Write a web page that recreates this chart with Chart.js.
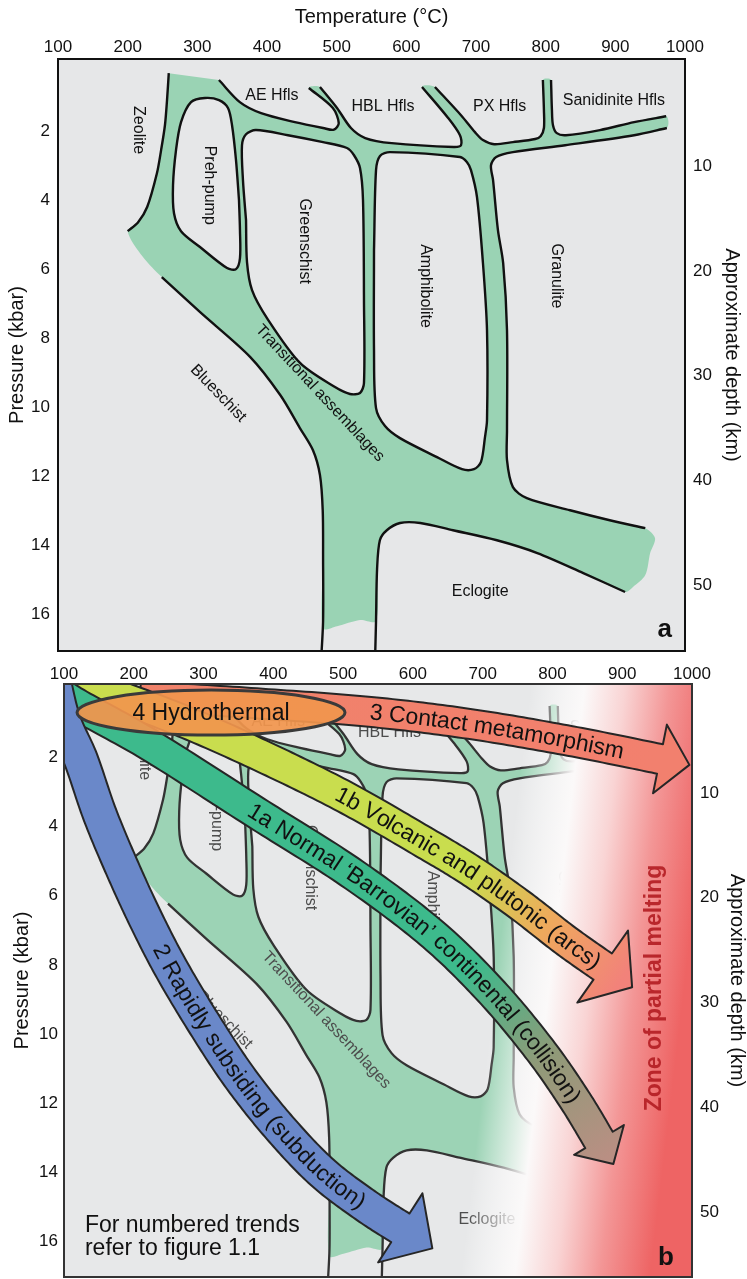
<!DOCTYPE html>
<html><head><meta charset="utf-8">
<script src="https://cdn.jsdelivr.net/npm/chart.js@4.4.1/dist/chart.umd.min.js"></script>
<style>
html,body{margin:0;padding:0;background:#fff;}
body{width:747px;height:1279px;position:relative;overflow:hidden;}
.w{position:absolute;left:0;width:747px;}
canvas{display:block;}
</style>
</head><body>
<div class="w" style="top:0;height:655px"><canvas id="ca" width="747" height="655" style="width:747px;height:655px"></canvas></div>
<div class="w" style="top:655px;height:624px"><canvas id="cb" width="747" height="624" style="width:747px;height:624px"></canvas></div>
<script>
// ---------------- axes ----------------
const temperatureTicks = [100,200,300,400,500,600,700,800,900,1000];
const pressureTicks = [2,4,6,8,10,12,14,16];
const depthTicks = [10,20,30,40,50];
const KM_PER_KBAR = 3.3;

// ---------------- facies boundaries [T (°C), P (kbar)] ----------------
const zeoliteLine = [[259,0.32],[256.5,1.1],[253.5,1.83],[248,2.55],[242,3.22],[228,4.2],[215,4.64],[200,4.9]];
const blueschistLine = [[249,6.23],[304,7.25],[376,8.55],[419,9.65],[447,10.6],[466,11.25],[476,11.97],[480,13],[480.5,14.4],[480.5,16.2],[477.5,17.4]];
const eclogiteLine = [[555,17.4],[556.5,16.2],[558,14.7],[562,13.86],[572,13.57],[591,13.36],[620,13.36],[667,13.57],[730,13.86],[788,14.23],[854,14.81],[914,15.36]];
const granuliteLine = [[943,13.51],[892,13.28],[835,12.99],[773,12.64],[753,12.32],[744.5,11.54],[744.5,10.67],[744.5,7.77],[739,5.83],[731.5,4.87],[724.5,3.42],[721.5,2.99],[729,2.75],[753,2.61],[828,2.41],[927,2.12],[974,1.91]];
const sanidiniteLine = [[973,1.57],[927,1.74],[878,1.97],[829,2.12],[816,2.06],[810.5,1.83],[809,1.39],[807.7,0.52]];
const pxHflsLine = [[796,0.52],[797.5,1.39],[797.5,1.91],[793,2.14],[785,2.23],[753,2.32],[726,2.38],[710,2.26],[698.5,2.03],[678.5,1.54],[641,0.72]];
const hblHflsLine = [[622.5,0.72],[660,1.62],[677,2.12],[678.5,2.41],[668,2.46],[579,2.35],[541,2.2],[520.5,1.91],[500.5,1.33],[476,0.72]];
const aeHflsLine = [[460,0.75],[494.5,1.33],[503,1.77],[496,1.96],[480.5,1.91],[440,1.74],[391.5,1.48],[361,1.16],[331,0.52]];
// closed fields
const prehPumpField = [[359.8,4.0],[361.2,4.87],[361.2,5.68],[355.5,6.0],[342.6,5.97],[303.8,5.36],[276.6,4.9],[266.5,4.38],[265.1,3.57],[269.4,2.55],[276.6,1.74],[290.9,1.16],[311,1.04],[331.1,1.1],[344,1.33],[349.8,1.83],[355.5,2.84],[359.8,4.0]];
const greenschistField = [[369.9,4.58],[371.3,5.8],[378.5,6.61],[400,7.42],[447.4,8.72],[497.6,9.42],[519.1,9.62],[533.5,9.59],[539.2,9.3],[539.2,6.9],[537.8,4.0],[533.5,3.07],[524.9,2.7],[514.8,2.49],[480.4,2.32],[430.1,2.12],[384.2,1.97],[369.9,2.09],[364.1,2.41],[365.5,3.42],[369.9,4.58]];
const amphiboliteField = [[553.6,5.45],[556.5,3.13],[562.2,2.72],[576.6,2.61],[677,2.75],[687.1,2.9],[692.8,3.13],[701.4,3.91],[710,5.83],[715.8,7.77],[715.8,10.38],[712.9,10.87],[707.2,11.59],[697.1,11.8],[679.9,11.8],[644,11.45],[590.9,10.9],[569.4,10.55],[556.5,10.03],[553.6,8.35],[553.6,5.45]];
// unlined edges of the transitional (green) band
const edgeLeft = [[222,5.65]];
const edgeBottom = [[480.4,16.41],[500.5,16.35],[533.5,16.17]];
const edgeRightEnd = [[925,15.22],[943,14.87],[950,14.23],[957,13.8]];

const faciesLabels = [
  {text:'Zeolite', T:214.8, P:1.97, rot:90},
  {text:'Preh-pump', T:318, P:3.57, rot:90},
  {text:'Greenschist', T:453, P:5.19, rot:90},
  {text:'Amphibolite', T:628, P:6.49, rot:90},
  {text:'Granulite', T:815, P:6.2, rot:90},
  {text:'AE Hfls', T:407, P:0.96, rot:0},
  {text:'HBL Hfls', T:566.5, P:1.28, rot:0},
  {text:'PX Hfls', T:734, P:1.28, rot:0},
  {text:'Sanidinite Hfls', T:898, P:1.13, rot:0},
  {text:'Transitional assemblages', T:476, P:9.6, rot:47},
  {text:'Blueschist', T:330, P:9.6, rot:46},
  {text:'Eclogite', T:706, P:15.36, rot:0}
];

// ---------------- panel b: trends ----------------
const arrow2Path = [[77,-1.1],[97,0.78],[124.4,2.08],[151.6,3.67],[184.6,5.26],[219,6.76],[254.8,8.15],[302,9.74],[352.2,11.27],[409.5,12.72],[469.7,13.99],[531.4,14.94],[582,15.6]];
const arrow1aPath = [[65.6,-0.38],[108.6,0.35],[223.2,1.65],[373.7,3.58],[509.9,5.32],[624.5,7.05],[710.5,8.73],[782.2,10.46],[832.3,11.91],[866.7,13.06]];
const arrow1bPath = [[65.6,-0.52],[151.6,0.06],[266.2,0.92],[380.9,1.94],[502.7,3.15],[610.2,4.39],[681.8,5.26],[753.5,6.27],[818,7.28],[872,8.05]];
const arrow3Path = [[208.9,0.23],[366.6,0.43],[538.5,0.69],[681.8,1.04],[825.1,1.53],[954.1,2.05]];
const hydrothermal = {T:310.7, P:0.71, rT:192, rP:0.65, text:'4 Hydrothermal'};

const trendArrows = [
  {path:arrow3Path, text:'3 Contact metamorphism', textStart:[541.4,0.72], width:30, headLen:30, headW:70,
   grad:[[200,0.2],[950,2.0]], colors:['#f0826a','#f2806e']},
  {path:arrow1bPath, text:'1b Volcanic and plutonic (arcs)', textStart:[491.2,2.95], width:32, headLen:36, headW:88,
   grad:[[681.8,5.26],[904,8.29]], colors:['#c9dd4e','#eeaa5c','#f2827a']},
  {path:arrow1aPath, text:'1a Normal \u2018Barrovian\u2019 continental (collision)', textStart:[366.6,3.41], width:32, headLen:28, headW:58,
   grad:[[696,7.86],[882.5,13.5]], colors:['#3dba8c','#8f9a78','#b98f83']},
  {path:arrow2Path, text:'2 Rapidly subsiding (subduction)', textStart:[233.3,7.49], width:34, headLen:38, headW:82,
   grad:[[100,0],[600,16]], colors:['#6a88c9','#6a88c9']}
];

// melting zone: colour stops along T at P = 0, isolines slanting by meltZoneSlant = [P, dT]
const meltZoneT = [768, 846, 904, 968, 1040];
const meltZoneColors = ['rgba(255,255,255,0)','rgba(251,249,249,1)','rgba(249,212,212,1)','rgba(243,150,150,1)','rgba(238,100,100,1)'];
const meltZoneSlant = [17, -100];
const meltZoneCorners = [[90,-1],[1010,-1],[1010,18],[90,18]];
const meltZoneLabel = {text:'Zone of partial melting', T:947, P:8.67};
const noteLines = ['For numbered trends','refer to figure 1.1'];
const noteAnchor = {T:130, P:[15.72,16.39]};

// ---------------- build envelope of green band ----------------
const greenEnvelope = [].concat(
  zeoliteLine, edgeLeft, blueschistLine.slice(0,9), edgeBottom, eclogiteLine.slice(1),
  edgeRightEnd, granuliteLine, sanidiniteLine, pxHflsLine, hblHflsLine, aeHflsLine);

const FONT = "'Liberation Sans', Arial, Helvetica, sans-serif";

// ---------------- helpers ----------------
function toPx(chart, T, P){ return {x: chart.scales.x.getPixelForValue(T), y: chart.scales.y.getPixelForValue(P)}; }
function smooth(points, seg){
  const out=[]; const n=points.length;
  for(let i=0;i<n-1;i++){
    const p0=points[Math.max(i-1,0)], p1=points[i], p2=points[i+1], p3=points[Math.min(i+2,n-1)];
    for(let k=0;k<seg;k++){
      const t=k/seg, t2=t*t, t3=t2*t;
      const f=(a,b,c,d)=>0.5*((2*b)+(-a+c)*t+(2*a-5*b+4*c-d)*t2+(-a+3*b-3*c+d)*t3);
      out.push({x:f(p0.x,p1.x,p2.x,p3.x), y:f(p0.y,p1.y,p2.y,p3.y)});
    }
  }
  out.push(points[n-1]);
  return out;
}
function tangents(pts){
  const n=pts.length;
  return pts.map((p,i)=>{const A=pts[Math.max(i-1,0)],B=pts[Math.min(i+1,n-1)];const dx=B.x-A.x,dy=B.y-A.y,l=Math.hypot(dx,dy)||1;return {x:dx/l,y:dy/l};});
}
function drawArrow(ctx, chart, a){
  const pts=smooth(a.path.map(([T,P])=>toPx(chart,T,P)),20);
  const tg=tangents(pts); const n=pts.length; const hw=a.width/2;
  const L=[],R=[];
  pts.forEach((p,i)=>{const nx=-tg[i].y, ny=tg[i].x; L.push({x:p.x+nx*hw,y:p.y+ny*hw}); R.push({x:p.x-nx*hw,y:p.y-ny*hw});});
  const e=pts[n-1], te=tg[n-1], ne={x:-te.y,y:te.x};
  ctx.beginPath();
  ctx.moveTo(L[0].x,L[0].y);
  for(let i=1;i<n;i++) ctx.lineTo(L[i].x,L[i].y);
  ctx.lineTo(e.x+ne.x*a.headW/2, e.y+ne.y*a.headW/2);
  ctx.lineTo(e.x+te.x*a.headLen, e.y+te.y*a.headLen);
  ctx.lineTo(e.x-ne.x*a.headW/2, e.y-ne.y*a.headW/2);
  for(let i=n-1;i>=0;i--) ctx.lineTo(R[i].x,R[i].y);
  ctx.closePath();
  const g0=toPx(chart,a.grad[0][0],a.grad[0][1]), g1=toPx(chart,a.grad[1][0],a.grad[1][1]);
  const g=ctx.createLinearGradient(g0.x,g0.y,g1.x,g1.y);
  a.colors.forEach((c,i)=>g.addColorStop(i/(a.colors.length-1),c));
  ctx.fillStyle=g; ctx.fill();
  ctx.lineJoin='round'; ctx.lineWidth=2; ctx.strokeStyle='#262626'; ctx.stroke();
  // text along the centre line
  const cum=[0]; for(let i=1;i<n;i++) cum.push(cum[i-1]+Math.hypot(pts[i].x-pts[i-1].x,pts[i].y-pts[i-1].y));
  const s=toPx(chart,a.textStart[0],a.textStart[1]);
  let best=0,bd=1e9; pts.forEach((p,i)=>{const d=Math.hypot(p.x-s.x,p.y-s.y); if(d<bd){bd=d;best=i;}});
  const start=cum[best];
  ctx.font='23px '+FONT; ctx.fillStyle='#111'; ctx.textAlign='center'; ctx.textBaseline='middle';
  const chars=[...a.text];
  let prefix='';
  chars.forEach(ch=>{
    const w0=ctx.measureText(prefix).width; const w=ctx.measureText(ch).width;
    const d=start+w0+w/2;
    let j=1; while(j<n-1 && cum[j]<d) j++;
    const f=(d-cum[j-1])/((cum[j]-cum[j-1])||1);
    const x=pts[j-1].x+(pts[j].x-pts[j-1].x)*f, y=pts[j-1].y+(pts[j].y-pts[j-1].y)*f;
    const ang=Math.atan2(pts[j].y-pts[j-1].y, pts[j].x-pts[j-1].x);
    ctx.save(); ctx.translate(x,y); ctx.rotate(ang); ctx.fillText(ch,0,1); ctx.restore();
    prefix+=ch;
  });
}
function meltGradient(chart){
  const xs=chart.scales.x, ys=chart.scales.y;
  if(!chart.chartArea || !xs || !ys) return 'rgba(0,0,0,0)';
  const last=meltZoneT.length-1;
  const p0={x:xs.getPixelForValue(meltZoneT[0]), y:ys.getPixelForValue(0)};
  const q0={x:xs.getPixelForValue(meltZoneT[0]+meltZoneSlant[1]), y:ys.getPixelForValue(meltZoneSlant[0])};
  let ix=q0.x-p0.x, iy=q0.y-p0.y; const il=Math.hypot(ix,iy); ix/=il; iy/=il;
  let nx=-iy, ny=ix; if(nx<0){nx=-nx;ny=-ny;}
  const span=(xs.getPixelForValue(meltZoneT[last])-p0.x)*nx;
  const g=chart.ctx.createLinearGradient(p0.x,p0.y,p0.x+nx*span,p0.y+ny*span);
  meltZoneT.forEach((T,i)=>g.addColorStop((T-meltZoneT[0])/(meltZoneT[last]-meltZoneT[0]), meltZoneColors[i]));
  return g;
}

// ---------------- plugin ----------------
const diagramPlugin = {
  id:'diagram',
  beforeDatasetsDraw(chart){
    const c=chart.options.plugins.diagram, a=chart.chartArea, ctx=chart.ctx;
    ctx.save(); ctx.fillStyle=c.bg; ctx.fillRect(a.left,a.top,a.right-a.left,a.bottom-a.top); ctx.restore();
  },
  afterDatasetDraw(chart,args){
    const c=chart.options.plugins.diagram;
    if(args.index!==c.lastDiagramIndex) return;
    const ctx=chart.ctx; ctx.save();
    ctx.font='16px '+FONT; ctx.fillStyle=c.label; ctx.textAlign='center'; ctx.textBaseline='middle';
    faciesLabels.forEach(l=>{const p=toPx(chart,l.T,l.P); ctx.save(); ctx.translate(p.x,p.y); ctx.rotate(l.rot*Math.PI/180); ctx.fillText(l.text,0,0); ctx.restore();});
    ctx.restore();
  },
  afterDatasetsDraw(chart){
    const c=chart.options.plugins.diagram;
    if(!c.overlays) return;
    const ctx=chart.ctx, a=chart.chartArea;
    ctx.save(); ctx.beginPath(); ctx.rect(a.left,a.top,a.right-a.left,a.bottom-a.top); ctx.clip();
    trendArrows.forEach(ar=>drawArrow(ctx,chart,ar));
    // hydrothermal ellipse
    const e=toPx(chart,hydrothermal.T,hydrothermal.P);
    const rx=Math.abs(chart.scales.x.getPixelForValue(hydrothermal.T+hydrothermal.rT)-e.x);
    const ry=Math.abs(chart.scales.y.getPixelForValue(hydrothermal.P+hydrothermal.rP)-e.y);
    ctx.beginPath(); ctx.ellipse(e.x,e.y,rx,ry,0,0,Math.PI*2);
    ctx.fillStyle='rgba(241,150,78,0.93)'; ctx.fill(); ctx.lineWidth=3; ctx.strokeStyle='#3a3a3a'; ctx.stroke();
    ctx.font='23px '+FONT; ctx.fillStyle='#111'; ctx.textAlign='center'; ctx.textBaseline='middle';
    ctx.fillText(hydrothermal.text,e.x,e.y+1);
    // zone label
    const z=toPx(chart,meltZoneLabel.T,meltZoneLabel.P);
    ctx.save(); ctx.translate(z.x,z.y); ctx.rotate(-Math.PI/2); ctx.font='bold 23px '+FONT; ctx.fillStyle='rgba(180,30,36,0.92)';
    ctx.fillText(meltZoneLabel.text,0,0); ctx.restore();
    // note
    ctx.font='23px '+FONT; ctx.fillStyle='#111'; ctx.textAlign='left'; ctx.textBaseline='alphabetic';
    noteLines.forEach((t,i)=>{const p=toPx(chart,noteAnchor.T,noteAnchor.P[i]); ctx.fillText(t,p.x,p.y);});
    ctx.restore();
  },
  afterDraw(chart){
    const c=chart.options.plugins.diagram, a=chart.chartArea, ctx=chart.ctx;
    ctx.save(); ctx.lineWidth=2; ctx.strokeStyle=c.border; ctx.strokeRect(a.left,a.top,a.right-a.left,a.bottom-a.top);
    const p=toPx(chart,c.letterT,c.letterP);
    ctx.font='bold 26px '+FONT; ctx.fillStyle='#111'; ctx.textAlign='center'; ctx.textBaseline='alphabetic';
    ctx.fillText(c.letter,p.x,p.y); ctx.restore();
  }
};

function makeChart(cfg){
  const datasets=[];
  const add=(data,opts)=>datasets.push(Object.assign({data:data.map(([x,y])=>({x,y})), pointRadius:0, pointHoverRadius:0, tension:0.3,
    borderWidth:cfg.lw, borderColor:'rgba(0,0,0,0)', fill:false, order:-datasets.length, yAxisID:'y'},opts));
  add(greenEnvelope,{fill:'shape', backgroundColor:cfg.green});
  [prehPumpField,greenschistField,amphiboliteField].forEach(f=>add(f,{fill:'shape', backgroundColor:cfg.bg, borderColor:cfg.line}));
  [zeoliteLine,blueschistLine,eclogiteLine,granuliteLine,sanidiniteLine,pxHflsLine,hblHflsLine,aeHflsLine].forEach(l=>add(l,{borderColor:cfg.line}));
  const lastDiagramIndex=datasets.length-1;
  if(cfg.overlays) add(meltZoneCorners,{fill:'shape', tension:0, backgroundColor:(ctx)=>meltGradient(ctx.chart)});
  const tickFont={family:FONT,size:17,lineHeight:1};
  const titleFont={family:FONT,size:20,lineHeight:1};
  const noGrid={display:false, drawTicks:false, tickLength:0};
  return new Chart(document.getElementById(cfg.id),{
    type:'line',
    data:{datasets},
    plugins:[diagramPlugin],
    options:{
      responsive:false, animation:false, events:[], devicePixelRatio:1,
      layout:{padding:{left:0,right:0,top:0,bottom:cfg.padBottom}},
      plugins:{legend:{display:false}, tooltip:{enabled:false},
        diagram:{bg:cfg.bg,label:cfg.label,border:cfg.border,lastDiagramIndex,overlays:cfg.overlays,letter:cfg.letter,letterT:cfg.letterT,letterP:cfg.letterP}},
      scales:{
        x:{type:'linear',position:'top',min:100,max:1000,grid:noGrid,border:{display:false},
          afterBuildTicks:s=>{s.ticks=temperatureTicks.map(v=>({value:v}));},
          ticks:{font:tickFont,color:'#111',padding:cfg.xPad,autoSkip:false,maxRotation:0,callback:v=>String(v)},
          title:{display:cfg.showTitle,text:'Temperature (\u00B0C)',font:titleFont,color:'#111',padding:{top:7,bottom:0}},
          afterFit:s=>{s.height=cfg.top; s.paddingLeft=0; s.paddingRight=0;}},
        y:{type:'linear',position:'left',reverse:true,min:cfg.yMin,max:cfg.yMax,grid:noGrid,border:{display:false},
          afterBuildTicks:s=>{s.ticks=pressureTicks.map(v=>({value:v}));},
          ticks:{font:tickFont,color:'#111',padding:cfg.yPad,autoSkip:false,callback:v=>String(v)},
          title:{display:true,text:'Pressure (kbar)',font:titleFont,color:'#111',padding:{top:cfg.yTitlePad,bottom:0}},
          afterFit:s=>{s.width=cfg.left; s.paddingTop=0; s.paddingBottom=0;}},
        y2:{type:'linear',position:'right',reverse:true,min:cfg.yMin,max:cfg.yMax,grid:noGrid,border:{display:false},
          afterBuildTicks:s=>{s.ticks=depthTicks.map(d=>({value:d/KM_PER_KBAR}));},
          ticks:{font:tickFont,color:'#111',padding:cfg.y2Pad,autoSkip:false,callback:v=>String(Math.round(v*KM_PER_KBAR))},
          title:{display:true,text:'Approximate depth (km)',font:titleFont,color:'#111',padding:{top:cfg.y2TitlePad,bottom:0}},
          afterFit:s=>{s.width=747-cfg.right; s.paddingTop=0; s.paddingBottom=0;}}
      }
    }
  });
}

makeChart({id:'ca', top:59, left:58, right:685, padBottom:4, yMin:-0.09, yMax:17.07, xPad:3, yPad:8, y2Pad:8, yTitlePad:7, y2TitlePad:5,
  showTitle:true, line:'#111', lw:2.4, label:'#111', green:'#9ad3b4', bg:'#e6e7e8', border:'#111', letter:'a', letterT:971, letterP:16.67, overlays:false});
makeChart({id:'cb', top:29, left:64, right:692, padBottom:2, yMin:-0.116, yMax:17.02, xPad:1, yPad:6, y2Pad:8, yTitlePad:12, y2TitlePad:0,
  showTitle:false, line:'#333', lw:2.3, label:'#4d4d4d', green:'#9cd3b5', bg:'#e7e8e9', border:'#333', letter:'b', letterT:962.7, letterP:16.68, overlays:true});
</script>
</body></html>
